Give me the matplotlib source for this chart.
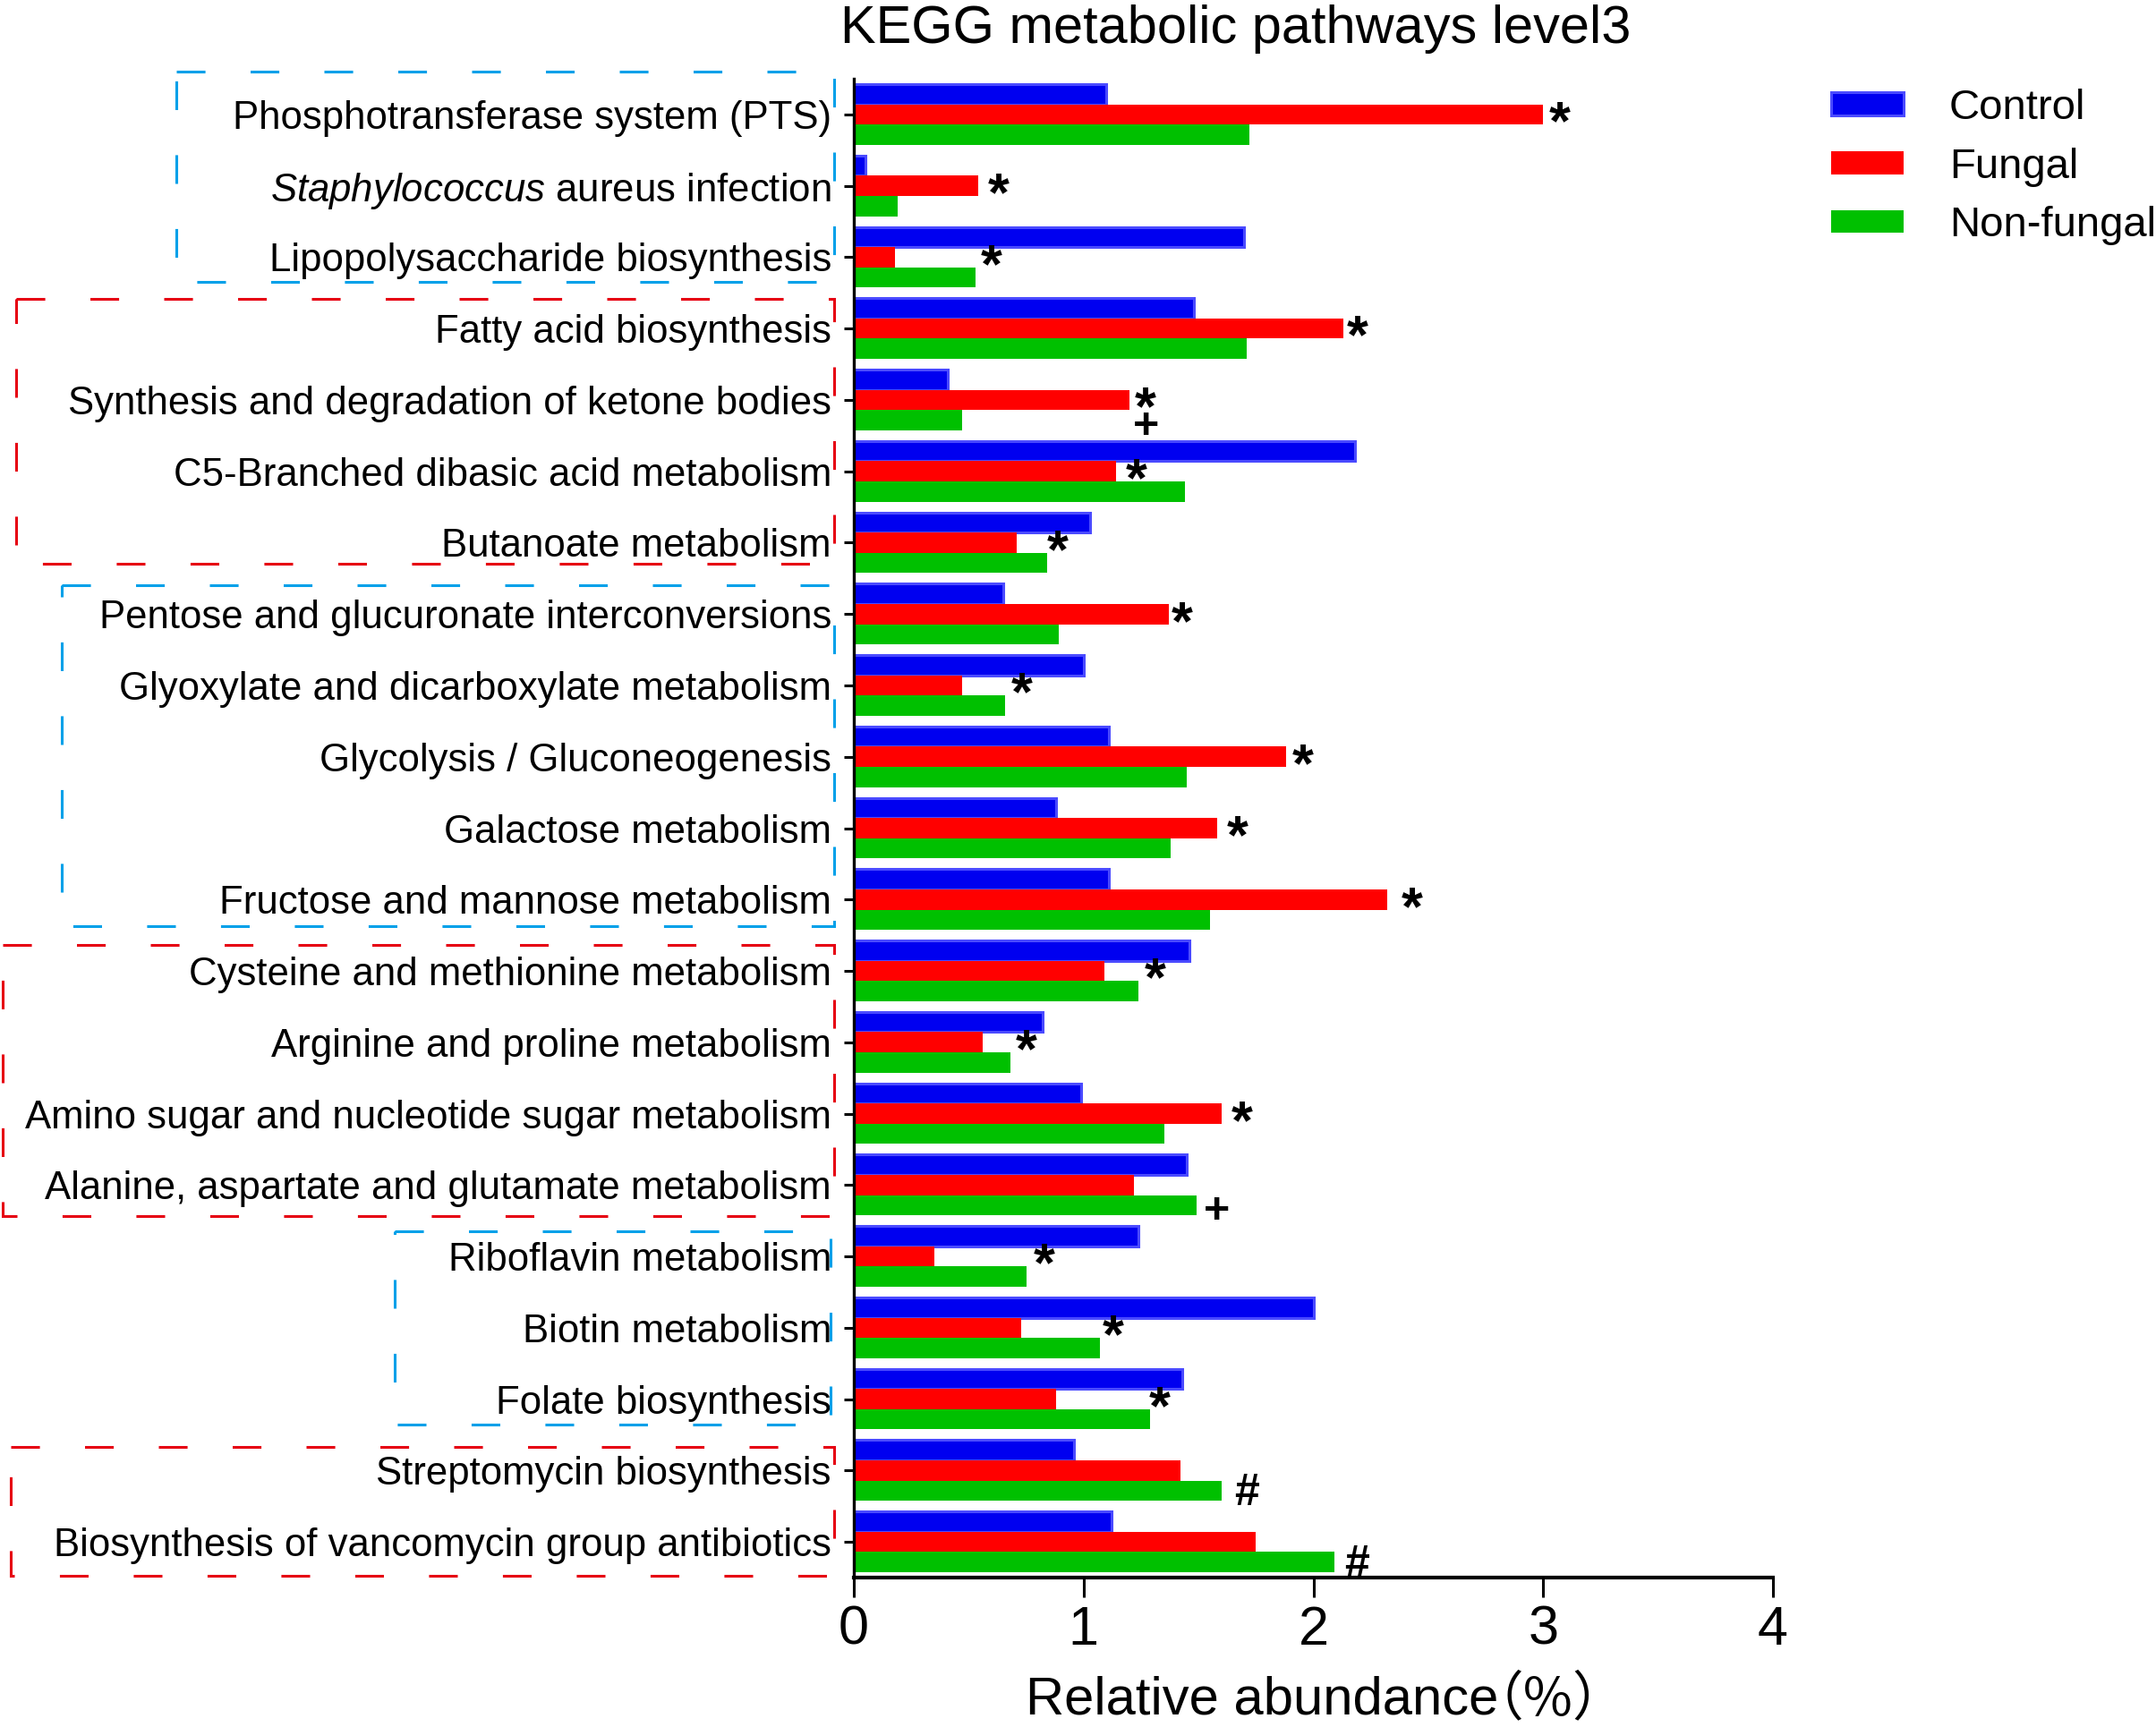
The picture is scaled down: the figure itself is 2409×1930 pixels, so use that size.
import matplotlib
matplotlib.use('Agg')
import matplotlib.pyplot as plt
import matplotlib.transforms as mtransforms
from matplotlib.patches import Rectangle
import numpy as np

plt.rcParams['font.family'] = ['Liberation Sans', 'DejaVu Sans']
plt.rcParams['mathtext.fontset'] = 'custom'
plt.rcParams['mathtext.rm'] = 'Liberation Sans'
plt.rcParams['mathtext.it'] = 'Liberation Sans:italic'

# ---------------- data ----------------
categories = [
    "Phosphotransferase system (PTS)",
    "$\\it{Staphylococcus}$ aureus infection",
    "Lipopolysaccharide biosynthesis",
    "Fatty acid biosynthesis",
    "Synthesis and degradation of ketone bodies",
    "C5-Branched dibasic acid metabolism",
    "Butanoate metabolism",
    "Pentose and glucuronate interconversions",
    "Glyoxylate and dicarboxylate metabolism",
    "Glycolysis / Gluconeogenesis",
    "Galactose metabolism",
    "Fructose and mannose metabolism",
    "Cysteine and methionine metabolism",
    "Arginine and proline metabolism",
    "Amino sugar and nucleotide sugar metabolism",
    "Alanine, aspartate and glutamate metabolism",
    "Riboflavin metabolism",
    "Biotin metabolism",
    "Folate biosynthesis",
    "Streptomycin biosynthesis",
    "Biosynthesis of vancomycin group antibiotics",
]
control = [1.10, 0.05, 1.70, 1.48, 0.41, 2.18, 1.03, 0.65, 1.00, 1.11, 0.88,
           1.11, 1.46, 0.82, 0.99, 1.45, 1.24, 2.00, 1.43, 0.96, 1.12]
fungal = [3.00, 0.54, 0.18, 2.13, 1.20, 1.14, 0.71, 1.37, 0.47, 1.88, 1.58,
          2.32, 1.09, 0.56, 1.60, 1.22, 0.35, 0.73, 0.88, 1.42, 1.75]
nonfungal = [1.72, 0.19, 0.53, 1.71, 0.47, 1.44, 0.84, 0.89, 0.66, 1.45, 1.38,
             1.55, 1.24, 0.68, 1.35, 1.49, 0.75, 1.07, 1.29, 1.60, 2.09]
series_names = ["Control", "Fungal", "Non-fungal"]
xticks = [0, 1, 2, 3, 4]

# significance marks: category index, symbol, row (1 = Fungal, 2 = Non-fungal), x
mark_cat = [0, 1, 2, 3, 4, 4, 5, 6, 7, 8, 9, 10, 11, 12, 13, 14, 15, 16, 17, 18, 19, 20]
mark_sym = ['*', '*', '*', '*', '*', '+', '*', '*', '*', '*', '*', '*', '*', '*', '*', '*',
            '+', '*', '*', '*', '#', '#']
mark_row = [1, 1, 1, 1, 1, 2, 1, 1, 1, 1, 1, 1, 1, 1, 1, 1, 2, 1, 1, 1, 2, 2]
mark_x = [3.07, 0.63, 0.60, 2.19, 1.27, 1.27, 1.23, 0.885, 1.43, 0.73, 1.955, 1.67,
          2.43, 1.31, 0.75, 1.69, 1.58, 0.83, 1.13, 1.33, 1.71, 2.19]

# ---------------- figure ----------------
W, H = 2409, 1930
fig = plt.figure(figsize=(W / 100, H / 100), dpi=100)
ax = fig.add_axes([954 / W, 1 - 1763 / H, (1981 - 954) / W, (1763 - 88) / H])

y = np.arange(len(categories))
h = 0.283
b1 = ax.barh(y - h, control, height=h, color='#0000F0', edgecolor='#4A4AFF',
             linewidth=2.2, label=series_names[0])
b2 = ax.barh(y, fungal, height=h, color='#FF0000', linewidth=0, label=series_names[1])
b3 = ax.barh(y + h, nonfungal, height=h, color='#00C000', linewidth=0, label=series_names[2])

ax.set_xlim(0, 4)
ax.set_ylim(20.5, -0.5)
ax.set_xticks(xticks)
ax.set_xticklabels([str(t) for t in xticks])
ax.set_yticks(y)
ax.set_yticklabels(categories, fontsize=31.5)

for s in ['top', 'right']:
    ax.spines[s].set_visible(False)
ax.spines['left'].set_linewidth(2.4)
ax.spines['bottom'].set_linewidth(3.0)
ax.tick_params(axis='x', length=16, width=2.2, pad=6, labelsize=44)
ax.tick_params(axis='y', length=8, width=2.2, pad=10)

# significance marks
mark_style = {'*': (44, 0.45), '+': (36, 0.34), '#': (36, 0.33)}
for c, s, r, xv in zip(mark_cat, mark_sym, mark_row, mark_x):
    fs, frac = mark_style[s]
    yy = y[c] + (r - 1) * h + (0.04 if s == '+' else 0.0)
    ax.annotate(s, xy=(xv, yy), xytext=(0, -frac * fs),
                textcoords='offset points', ha='center', va='baseline',
                fontsize=fs, fontweight='bold', annotation_clip=False)

# dashed group boxes (x in pixels of figure, y in data units)
trans = mtransforms.blended_transform_factory(fig.transFigure, ax.transData)
cblue, cred = '#00A0E9', '#E60012'
boxes = [
    (197, 932, -0.60, 2.35, cblue),
    (18, 932, 2.58, 6.30, cred),
    (69, 932, 6.59, 11.37, cblue),
    (3, 932, 11.64, 15.43, cred),
    (441, 928, 15.65, 18.36, cblue),
    (12, 932, 18.67, 20.48, cred),
]
for x0, x1, yt, yb, col in boxes:
    r = Rectangle((x0 / W, yt), (x1 - x0) / W, yb - yt, transform=trans,
                  fill=False, edgecolor=col, linewidth=2.2,
                  linestyle=(0, (10.5, 16.5)), clip_on=False)
    fig.add_artist(r)

# legend
ax.legend([b1, b2, b3], series_names, loc='upper left',
          bbox_to_anchor=(2046 / W, 1 - 99 / H), bbox_transform=fig.transFigure,
          frameon=False, fontsize=34, handlelength=1.71, handleheight=0.45,
          handletextpad=1.08, labelspacing=0.46, borderpad=0, borderaxespad=0)

# title and x label
fig.text(1381 / W, 1 - 48 / H, 'KEGG metabolic pathways level3', ha='center',
         va='baseline', fontsize=42.8)
fig.text(1674 / W, 1 - 1916 / H, 'Relative abundance', ha='right', va='baseline',
         fontsize=43)
fig.text(1730 / W, 1 - 1916 / H, '（%）', ha='center', va='baseline',
         fontsize=43, family=['Noto Sans CJK SC', 'Liberation Sans'])

fig.savefig('out.png', dpi=100)
